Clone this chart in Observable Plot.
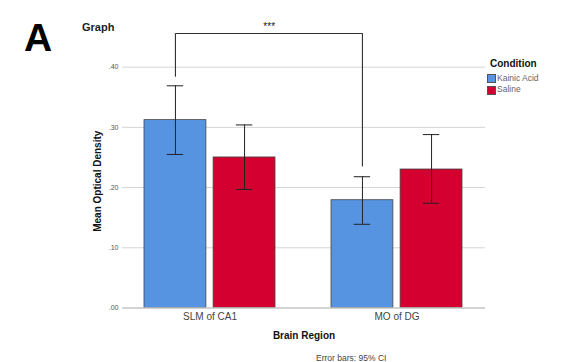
<!DOCTYPE html>
<html>
<head>
<meta charset="utf-8">
<script src="https://cdn.jsdelivr.net/npm/d3@7"></script>
<script src="https://cdn.jsdelivr.net/npm/@observablehq/plot@0.6"></script>
<style>
  html, body { margin: 0; padding: 0; background: #fff; }
  #wrap { position: relative; width: 585px; height: 362px; font-family: "Liberation Sans", Arial, sans-serif; overflow: hidden; }
  #wrap svg { position: absolute; left: 0; top: 0; }
  .ov { position: absolute; white-space: nowrap; line-height: 1; }
  .sw { display: inline-block; width: 7px; height: 7px; border: 1px solid #555; vertical-align: middle; margin-right: 1px; }
</style>
</head>
<body>
<div id="wrap"></div>
<script>
// ---- data ----
const regions = ["SLM of CA1", "MO of DG"];
const conditions = ["Kainic Acid", "Saline"];
const colors = ["#5694e2", "#d4002f"];
const meanKainic = [0.312, 0.179];
const loKainic   = [0.255, 0.139];
const hiKainic   = [0.369, 0.218];
const meanSaline = [0.250, 0.230];
const loSaline   = [0.197, 0.174];
const hiSaline   = [0.304, 0.288];
const yTicks = [0, 0.1, 0.2, 0.3, 0.4];
const bracketY = [0.385, 0.456, 0.456, 0.236];
const bracketRegion = ["SLM of CA1", "SLM of CA1", "MO of DG", "MO of DG"];
const sigLabel = "***";
const sigY = 0.467;

// ---- tables ----
const kainic = regions.map((r, i) => ({region: r, condition: conditions[0], mean: meanKainic[i], lo: loKainic[i], hi: hiKainic[i]}));
const saline = regions.map((r, i) => ({region: r, condition: conditions[1], mean: meanSaline[i], lo: loSaline[i], hi: hiSaline[i]}));
const bracket = bracketY.map((y, i) => ({region: bracketRegion[i], y}));

// layout constants (pixels)
const W = 585, H = 362, ML = 122, MR = 100, MT = 54, MB = 54.5;
const pIn = 0.298, pOut = 0.117;
const step = (W - ML - MR) / (regions.length - pIn + 2 * pOut);
const bw = step * (1 - pIn);
const gap = 6.6;
const barW = (bw - gap) / 2;
const off = barW / 2 + gap / 2;         // bar centre offset from band centre
const capW = 17;
const capIn = (barW - capW) / 2;

const fmt = d => d3.format(".2f")(d).replace(/^0/, "");
const grid = "#d4d4d4";
const axisCol = "#c4c4c4";
const errCol = "#222";

const chart = Plot.plot({
  width: W, height: H,
  marginLeft: ML, marginRight: MR, marginTop: MT, marginBottom: MB,
  style: {fontFamily: "'Liberation Sans', Arial, sans-serif", background: "transparent", overflow: "visible"},
  x: {type: "band", domain: regions, paddingInner: pIn, paddingOuter: pOut},
  y: {domain: [0, 0.421]},
  color: {domain: conditions, range: colors},
  marks: [
    Plot.ruleY(yTicks.filter(d => d > 0), {stroke: grid, strokeWidth: 1}),
    Plot.axisY({ticks: yTicks, tickFormat: fmt, tickSize: 0, tickPadding: 4, fontSize: 7, fill: "#555", line: true, stroke: axisCol, strokeWidth: 1.5, label: null}),
    Plot.axisX({tickSize: 0, tickPadding: 5, fontSize: 10, fill: "#444", label: null}),
    Plot.barY(kainic, {x: "region", y: "mean", fill: "condition", stroke: "#444", strokeWidth: 0.8, insetRight: bw - barW}),
    Plot.barY(saline, {x: "region", y: "mean", fill: "condition", stroke: "#444", strokeWidth: 0.8, insetLeft: bw - barW}),
    Plot.ruleY([0], {stroke: axisCol, strokeWidth: 1.5}),
    Plot.ruleX(kainic, {x: "region", y1: "lo", y2: "hi", dx: -off, stroke: errCol, strokeWidth: 1}),
    Plot.ruleX(saline, {x: "region", y1: "lo", y2: "hi", dx: off, stroke: errCol, strokeWidth: 1}),
    Plot.tickY(kainic, {x: "region", y: "lo", insetLeft: capIn, insetRight: bw - barW + capIn, stroke: errCol, strokeWidth: 1}),
    Plot.tickY(kainic, {x: "region", y: "hi", insetLeft: capIn, insetRight: bw - barW + capIn, stroke: errCol, strokeWidth: 1}),
    Plot.tickY(saline, {x: "region", y: "lo", insetLeft: bw - barW + capIn, insetRight: capIn, stroke: errCol, strokeWidth: 1}),
    Plot.tickY(saline, {x: "region", y: "hi", insetLeft: bw - barW + capIn, insetRight: capIn, stroke: errCol, strokeWidth: 1}),
    Plot.line(bracket, {x: "region", y: "y", dx: -off, stroke: "#333", strokeWidth: 1.1, curve: "linear"}),
    Plot.text([sigLabel], {x: () => regions[0], y: () => sigY, dx: step / 2 - off, fontSize: 10, fill: "#222"}),
    Plot.text(["Mean Optical Density"], {frameAnchor: "left", textAnchor: "middle", dx: -25, rotate: -90, fontSize: 10, fontWeight: "bold", fill: "#111"}),
    Plot.text(["Brain Region"], {frameAnchor: "bottom", dy: 31, fontSize: 10, fontWeight: "bold", fill: "#111"})
  ]
});

const wrap = document.getElementById("wrap");
wrap.appendChild(chart);

function ov(html, css) {
  const d = document.createElement("div");
  d.className = "ov";
  d.innerHTML = html;
  Object.assign(d.style, css);
  wrap.appendChild(d);
  return d;
}
ov("A", {left: "24px", top: "18px", fontSize: "39px", fontWeight: "bold", color: "#000"});
ov("Graph", {left: "82px", top: "22px", fontSize: "11px", fontWeight: "bold", color: "#222"});
ov("Condition", {left: "490px", top: "59px", fontSize: "10px", fontWeight: "bold", color: "#111"});
conditions.forEach((c, i) => {
  ov(`<span class="sw" style="background:${colors[i]}"></span>${c}`,
     {left: "487px", top: (74 + i * 11.3) + "px", fontSize: "8.5px", color: "#666"});
});
ov("Error bars: 95% CI", {left: "316px", top: "354px", fontSize: "8.5px", color: "#444"});
</script>
</body>
</html>
